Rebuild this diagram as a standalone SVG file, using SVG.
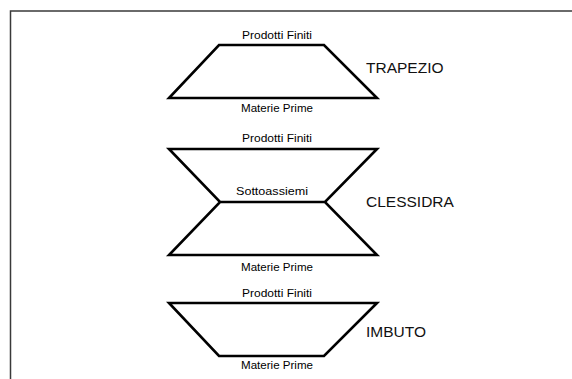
<svg xmlns="http://www.w3.org/2000/svg" width="572" height="379" viewBox="0 0 572 379">
<style>
.shape{fill:none;stroke:#000;stroke-width:2.6;stroke-linejoin:miter}
.lbl{font-family:"Liberation Sans",Arial,sans-serif;font-size:11px;fill:#000;text-anchor:middle}
.title{font-family:"Liberation Sans",Arial,sans-serif;font-size:15.5px;fill:#111}
</style>
<rect x="0" y="0" width="572" height="379" fill="#fff"/>
<rect x="10.5" y="11" width="600" height="400" fill="none" stroke="#3a3a3a" stroke-width="1.5"/>
<g id="trapezio">
<polygon class="shape" points="219,45 324,45 377,98 169,98"/>
<text class="lbl" x="277" y="39" textLength="70" lengthAdjust="spacingAndGlyphs">Prodotti Finiti</text>
<text class="lbl" x="277" y="112" textLength="72" lengthAdjust="spacingAndGlyphs">Materie Prime</text>
<text class="title" x="366" y="73">TRAPEZIO</text>
</g>
<g id="clessidra">
<path class="shape" d="M169,149 L377,149 L325,202 L220,202 Z M220,202 L325,202 L377,255 L169,255 Z"/>
<text class="lbl" x="277" y="142" textLength="70" lengthAdjust="spacingAndGlyphs">Prodotti Finiti</text>
<text class="lbl" x="272" y="195" textLength="72" lengthAdjust="spacingAndGlyphs">Sottoassiemi</text>
<text class="lbl" x="277" y="271" textLength="72" lengthAdjust="spacingAndGlyphs">Materie Prime</text>
<text class="title" x="366" y="207">CLESSIDRA</text>
</g>
<g id="imbuto">
<polygon class="shape" points="169,303 377,303 324,356 219,356"/>
<text class="lbl" x="277" y="297" textLength="70" lengthAdjust="spacingAndGlyphs">Prodotti Finiti</text>
<text class="lbl" x="277" y="369" textLength="72" lengthAdjust="spacingAndGlyphs">Materie Prime</text>
<text class="title" x="366" y="337">IMBUTO</text>
</g>
</svg>
